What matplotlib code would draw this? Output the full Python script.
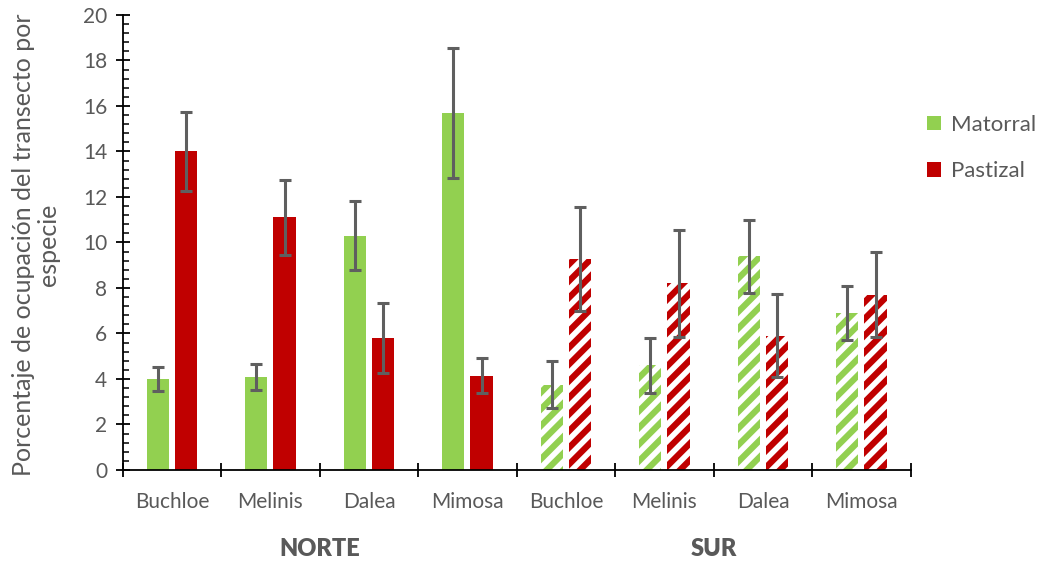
import matplotlib
matplotlib.use("Agg")
import matplotlib.pyplot as plt
import numpy as np
from matplotlib.ticker import MultipleLocator
from matplotlib.patches import Patch

plt.rcParams['font.family'] = ['Lato', 'DejaVu Sans']
plt.rcParams['hatch.linewidth'] = 4.5

species = ["Buchloe", "Melinis", "Dalea", "Mimosa", "Buchloe", "Melinis", "Dalea", "Mimosa"]
groups = ["NORTE", "SUR"]
matorral = [4.0, 4.1, 10.3, 15.7, 3.75, 4.6, 9.4, 6.9]
matorral_err = [0.53, 0.58, 1.53, 2.87, 1.04, 1.22, 1.6, 1.17]
pastizal = [14.0, 11.1, 5.8, 4.15, 9.27, 8.2, 5.9, 7.7]
pastizal_err = [1.75, 1.63, 1.52, 0.76, 2.3, 2.35, 1.83, 1.87]

GREEN = "#92D050"
RED = "#C00000"
TXT = "#595959"
ERR = "#5F5F5F"

fig = plt.figure(figsize=(10.39, 5.63), dpi=100)
ax = fig.add_axes([0.1181, 0.1652, 0.7584, 0.8082])

x = np.arange(len(species))
w = 0.226
off = 0.143
ekw = dict(ecolor=ERR, elinewidth=2.2, capsize=4.4, capthick=2.2)
for i in range(len(species)):
    south = i >= 4
    if south:
        ax.bar(x[i] - off, matorral[i], w, facecolor="white", edgecolor=GREEN,
               hatch="//", linewidth=0, zorder=2)
        ax.bar(x[i] + off, pastizal[i], w, facecolor="white", edgecolor=RED,
               hatch="//", linewidth=0, zorder=2)
    else:
        ax.bar(x[i] - off, matorral[i], w, color=GREEN, linewidth=0, zorder=2)
        ax.bar(x[i] + off, pastizal[i], w, color=RED, linewidth=0, zorder=2)
    ax.errorbar(x[i] - off, matorral[i], yerr=matorral_err[i], fmt="none", zorder=3, **ekw)
    ax.errorbar(x[i] + off, pastizal[i], yerr=pastizal_err[i], fmt="none", zorder=3, **ekw)

ax.set_xlim(-0.5, len(species) - 0.5)
ax.set_ylim(0, 20)
ax.yaxis.set_major_locator(MultipleLocator(2))
ax.yaxis.set_minor_locator(MultipleLocator(0.4))

for s in ["top", "right"]:
    ax.spines[s].set_visible(False)
for s in ["left", "bottom"]:
    ax.spines[s].set_color("black")
    ax.spines[s].set_linewidth(1.3)

ax.tick_params(axis="y", which="major", direction="inout", length=10.5, width=1.3,
               labelsize=15, labelcolor=TXT, pad=6)
ax.tick_params(axis="y", which="minor", direction="in", length=4.3, width=1.1)

# category boundary ticks
ax.set_xticks(np.arange(-0.5, len(species), 1.0))
ax.set_xticklabels([])
ax.tick_params(axis="x", which="major", direction="inout", length=10.5, width=1.3)
for i, s in enumerate(species):
    ax.text(x[i], -0.048, s, transform=ax.get_xaxis_transform(), ha="center", va="top",
            fontsize=15, color=TXT)
for j, g in enumerate(groups):
    ax.text(1.5 + 4 * j, -0.15, g, transform=ax.get_xaxis_transform(), ha="center", va="top",
            fontsize=17, fontweight="heavy", color=TXT)

fig.text(0.0346, 0.565, "Porcentaje de ocupación del transecto por\nespecie",
         rotation=90, ha="center", va="center", fontsize=18, color=TXT,
         multialignment="center", linespacing=1.15)

handles = [Patch(facecolor=GREEN, label="Matorral"), Patch(facecolor=RED, label="Pastizal")]
leg = fig.legend(handles=handles, loc="center left", bbox_to_anchor=(0.892, 0.737),
                 frameon=False, fontsize=16, labelcolor=TXT, handlelength=0.65,
                 handleheight=0.65, handletextpad=0.45, labelspacing=1.2,
                 borderaxespad=0, borderpad=0)

fig.savefig("out.png", dpi=100)
